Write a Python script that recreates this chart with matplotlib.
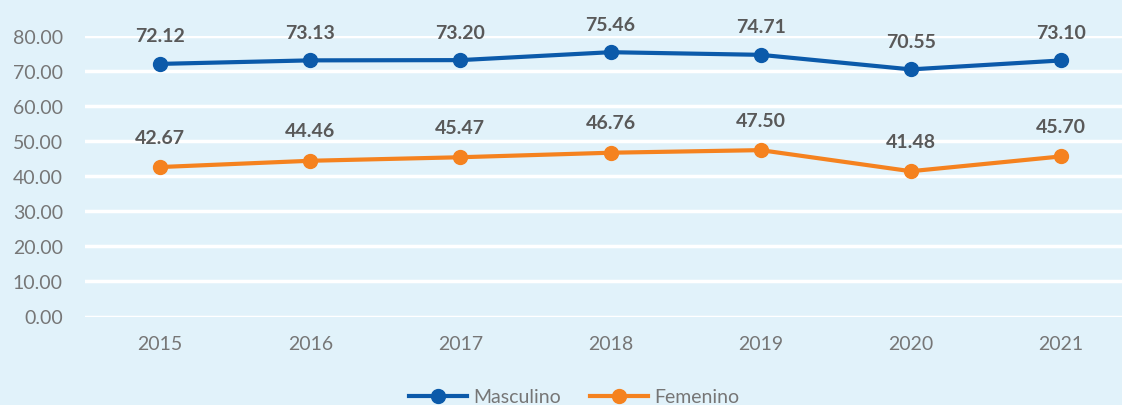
import matplotlib
matplotlib.use("Agg")
import matplotlib.pyplot as plt
from matplotlib.lines import Line2D

years = ["2015", "2016", "2017", "2018", "2019", "2020", "2021"]
masculino = [72.12, 73.13, 73.20, 75.46, 74.71, 70.55, 73.10]
femenino = [42.67, 44.46, 45.47, 46.76, 47.50, 41.48, 45.70]
yticks = [0, 10, 20, 30, 40, 50, 60, 70, 80]

plt.rcParams['font.family'] = ['Lato', 'DejaVu Sans']

W, H = 1122, 406
bg = "#E1F2FA"
blue = "#0B5AAA"
orange = "#F5821F"
fig = plt.figure(figsize=(W / 100, H / 100), dpi=100, facecolor=bg)
ax = fig.add_axes([85 / W, (H - 317.5) / H, (1136 - 85) / W, (317.5 - 37.3) / H])
ax.set_facecolor(bg)

x = list(range(len(years)))
ax.plot(x, masculino, color=blue, lw=3, marker='o', ms=10, label="Masculino", zorder=3, clip_on=False)
ax.plot(x, femenino, color=orange, lw=3, marker='o', ms=10, label="Femenino", zorder=3, clip_on=False)

for xi, v in zip(x, masculino):
    ax.annotate(f"{v:.2f}", (xi, v), xytext=(0, 28), textcoords='offset pixels',
                ha='center', va='center', fontsize=14, fontweight='bold', color="#595959",
                annotation_clip=False)
for xi, v in zip(x, femenino):
    ax.annotate(f"{v:.2f}", (xi, v), xytext=(0, 30), textcoords='offset pixels',
                ha='center', va='center', fontsize=14, fontweight='bold', color="#595959",
                annotation_clip=False)

ax.set_xlim(-0.5, len(years) - 0.5)
ax.set_ylim(0, 80)
ax.set_yticks(yticks)
ax.set_yticklabels([f"{t:.2f}" for t in yticks])
ax.set_xticks(x)
ax.set_xticklabels(years)
ax.tick_params(axis='both', length=0, labelsize=14, labelcolor="#767676")
ax.tick_params(axis='y', pad=16)
ax.tick_params(axis='x', pad=13)
ax.grid(axis='y', color='white', lw=2.5, zorder=0)
ax.set_axisbelow(True)
for s in ax.spines.values():
    s.set_visible(False)

handles = [Line2D([0], [0], color=blue, lw=3, marker='o', ms=10),
           Line2D([0], [0], color=orange, lw=3, marker='o', ms=10)]
fig.legend(handles, ["Masculino", "Femenino"], loc='center', bbox_to_anchor=(574 / W, (H - 398) / H),
           ncol=2, frameon=False, fontsize=14, labelcolor="#767676", handlelength=3,
           columnspacing=1.5, handletextpad=0.3)

fig.savefig("out.png", dpi=100, facecolor=bg)
